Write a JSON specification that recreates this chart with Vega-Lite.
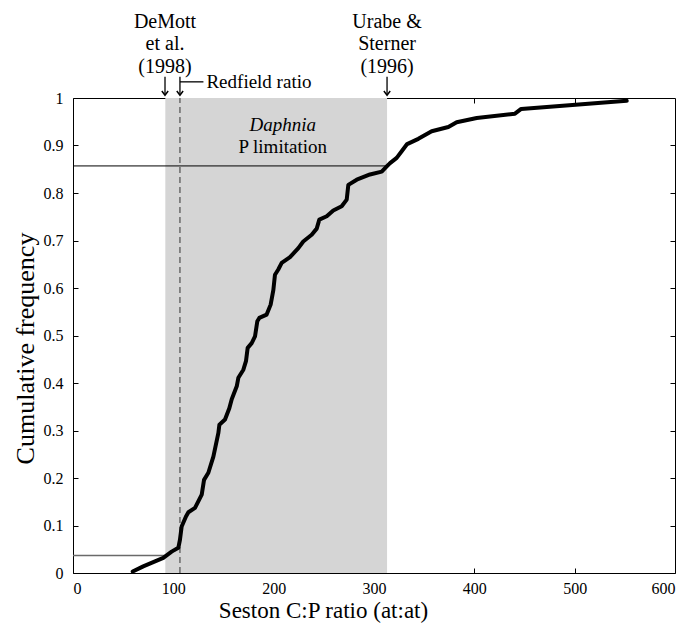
{
  "$schema": "https://vega.github.io/schema/vega-lite/v6.json",
  "width": 602,
  "height": 475,
  "autosize": {"type": "none"},
  "padding": {"left": 73, "top": 98, "right": 13, "bottom": 50},
  "background": "white",
  "config": {
    "view": {"stroke": null},
    "font": "Liberation Serif",
    "style": {
      "guide-label": {"font": "Liberation Serif", "fontSize": 16, "fill": "black"},
      "guide-title": {"font": "Liberation Serif", "fontWeight": "normal", "fill": "black"}
    },
    "axis": {
      "domainColor": "black", "domainWidth": 1, "tickColor": "black", "tickSize": -5,
      "labelFont": "Liberation Serif", "labelFontSize": 16, "labelColor": "black",
      "titleFont": "Liberation Serif", "titleFontWeight": "normal", "titleColor": "black",
      "grid": false
    }
  },
  "datasets": {
    "curve": [
      {"cp": 59.5, "f": 0.003}, {"cp": 70, "f": 0.014}, {"cp": 90, "f": 0.032}, {"cp": 98.3, "f": 0.045},
      {"cp": 105, "f": 0.053}, {"cp": 106.6, "f": 0.07}, {"cp": 108.3, "f": 0.098}, {"cp": 112.6, "f": 0.119},
      {"cp": 115, "f": 0.128}, {"cp": 121.6, "f": 0.137}, {"cp": 128.3, "f": 0.165}, {"cp": 130.6, "f": 0.196},
      {"cp": 134.9, "f": 0.211}, {"cp": 139.9, "f": 0.245}, {"cp": 144.9, "f": 0.295}, {"cp": 145.9, "f": 0.312},
      {"cp": 151.5, "f": 0.323}, {"cp": 155.8, "f": 0.347}, {"cp": 158.2, "f": 0.366}, {"cp": 163.2, "f": 0.393},
      {"cp": 164.8, "f": 0.411}, {"cp": 169.8, "f": 0.428}, {"cp": 172.4, "f": 0.446}, {"cp": 174.1, "f": 0.474},
      {"cp": 178.1, "f": 0.484}, {"cp": 181.4, "f": 0.498}, {"cp": 183.7, "f": 0.53}, {"cp": 185.7, "f": 0.537},
      {"cp": 193, "f": 0.544}, {"cp": 197, "f": 0.565}, {"cp": 199.7, "f": 0.596}, {"cp": 201.3, "f": 0.628},
      {"cp": 204.6, "f": 0.639}, {"cp": 208, "f": 0.653}, {"cp": 216.3, "f": 0.665}, {"cp": 224.6, "f": 0.684},
      {"cp": 229.5, "f": 0.698}, {"cp": 237.9, "f": 0.712}, {"cp": 242.9, "f": 0.725}, {"cp": 245.5, "f": 0.744},
      {"cp": 252.9, "f": 0.751}, {"cp": 259.4, "f": 0.763}, {"cp": 267.8, "f": 0.772}, {"cp": 272.8, "f": 0.786},
      {"cp": 274.4, "f": 0.817}, {"cp": 282.8, "f": 0.828}, {"cp": 296, "f": 0.839}, {"cp": 307.7, "f": 0.845},
      {"cp": 312.7, "f": 0.856}, {"cp": 316, "f": 0.863}, {"cp": 322.6, "f": 0.874}, {"cp": 327.6, "f": 0.888},
      {"cp": 333, "f": 0.903}, {"cp": 344.2, "f": 0.914}, {"cp": 357.5, "f": 0.93}, {"cp": 374.1, "f": 0.939},
      {"cp": 382.4, "f": 0.949}, {"cp": 402.4, "f": 0.958}, {"cp": 440.5, "f": 0.967}, {"cp": 446.7, "f": 0.977},
      {"cp": 551.9, "f": 0.994}
    ],
    "refs": [
      {"name": "DeMott", "cp": 91.7, "label": "DeMott\net al.\n(1998)"},
      {"name": "Redfield", "cp": 106.6, "label": ""},
      {"name": "Urabe", "cp": 313, "label": "Urabe &\nSterner\n(1996)"}
    ]
  },
  "resolve": {"axis": {"x": "independent", "y": "independent"}},
  "layer": [
    {
      "data": {"values": [{"lo": 92, "hi": 313}]},
      "mark": {"type": "rect", "color": "#d5d5d5"},
      "encoding": {
        "x": {"field": "lo", "type": "quantitative", "scale": {"domain": [0, 600], "nice": false},
              "axis": {"orient": "bottom", "values": [0, 100, 200, 300, 400, 500, 600], "title": "Seston C:P ratio (at:at)",
                       "labelFont": "Liberation Serif", "labelFontSize": 16, "titleFontSize": 23,
                       "labelPadding": 12, "titleX": 250, "titleY": 37, "titleBaseline": "middle", "titleAnchor": null}},
        "x2": {"field": "hi"},
        "y": {"datum": 0, "type": "quantitative", "scale": {"domain": [0, 1], "nice": false},
              "axis": {"orient": "left", "values": [0, 0.1, 0.2, 0.3, 0.4, 0.5, 0.6, 0.7, 0.8, 0.9, 1], "format": "~g",
                       "labelFont": "Liberation Serif", "labelFontSize": 16, "titleFontSize": 26,
                       "title": "Cumulative frequency", "labelPadding": 15, "titleX": -48, "titleY": 250, "titleBaseline": "middle", "titleAnchor": null}},
        "y2": {"datum": 1}
      }
    },
    {
      "data": {"values": [{"lo": 0, "hi": 600}]},
      "mark": {"type": "rule", "opacity": 0},
      "encoding": {
        "x": {"field": "lo", "type": "quantitative", "scale": {"domain": [0, 600], "nice": false},
              "axis": {"orient": "top", "values": [100, 200, 300, 400, 500], "labels": false, "title": null}},
        "x2": {"field": "hi"},
        "y": {"datum": 0.5, "type": "quantitative", "scale": {"domain": [0, 1], "nice": false},
              "axis": {"orient": "right", "values": [0.1, 0.2, 0.3, 0.4, 0.5, 0.6, 0.7, 0.8, 0.9], "labels": false, "title": null}}
      }
    },
    {
      "data": {"values": [{"lo": 0, "hi": 313, "f": 0.857}]},
      "mark": {"type": "rule", "color": "black", "strokeWidth": 1},
      "encoding": {
        "x": {"field": "lo", "type": "quantitative", "axis": null},
        "x2": {"field": "hi"},
        "y": {"field": "f", "type": "quantitative", "axis": null}
      }
    },
    {
      "data": {"values": [{"lo": 0, "hi": 92, "f": 0.037}]},
      "mark": {"type": "rule", "color": "#6a6a6a", "strokeWidth": 1.5},
      "encoding": {
        "x": {"field": "lo", "type": "quantitative", "axis": null},
        "x2": {"field": "hi"},
        "y": {"field": "f", "type": "quantitative", "axis": null}
      }
    },
    {
      "data": {"values": [{"cp": 106.6}]},
      "mark": {"type": "rule", "color": "#333333", "strokeWidth": 1, "strokeDash": [6, 4]},
      "encoding": {
        "x": {"field": "cp", "type": "quantitative", "axis": null},
        "y": {"datum": 0, "type": "quantitative", "axis": null},
        "y2": {"datum": 1}
      }
    },
    {
      "data": {"name": "curve"},
      "mark": {"type": "line", "color": "black", "strokeWidth": 4, "strokeJoin": "round", "strokeCap": "round"},
      "encoding": {
        "x": {"field": "cp", "type": "quantitative", "axis": null},
        "y": {"field": "f", "type": "quantitative", "axis": null}
      }
    },
    {
      "data": {"name": "refs"},
      "mark": {"type": "rule", "color": "black", "strokeWidth": 1.3},
      "encoding": {
        "x": {"field": "cp", "type": "quantitative", "axis": null},
        "y": {"datum": 1.045, "type": "quantitative", "axis": null},
        "y2": {"datum": 1.008}
      }
    },
    {
      "data": {"name": "refs"},
      "mark": {"type": "point", "shape": "M -1 -1.3 L 0 0 L 1 -1.3", "filled": false, "stroke": "black", "strokeWidth": 1.5, "size": 40, "opacity": 1},
      "encoding": {
        "x": {"field": "cp", "type": "quantitative", "axis": null},
        "y": {"datum": 1.006, "type": "quantitative", "axis": null}
      }
    },
    {
      "data": {"values": [{"lo": 106.6, "hi": 130, "f": 1.034}]},
      "mark": {"type": "rule", "color": "black", "strokeWidth": 1.3},
      "encoding": {
        "x": {"field": "lo", "type": "quantitative", "axis": null},
        "x2": {"field": "hi"},
        "y": {"field": "f", "type": "quantitative", "axis": null}
      }
    },
    {
      "data": {"name": "refs"},
      "mark": {"type": "text", "font": "Liberation Serif", "fontSize": 20, "color": "black", "lineBreak": "\n", "lineHeight": 22.5, "baseline": "middle", "align": "center"},
      "encoding": {
        "x": {"field": "cp", "type": "quantitative", "axis": null},
        "y": {"datum": 1.161, "type": "quantitative", "axis": null},
        "text": {"field": "label"}
      }
    },
    {
      "data": {"values": [{"cp": 133, "f": 1.034, "label": "Redfield ratio"}]},
      "mark": {"type": "text", "font": "Liberation Serif", "fontSize": 19, "color": "black", "baseline": "middle", "align": "left"},
      "encoding": {
        "x": {"field": "cp", "type": "quantitative", "axis": null},
        "y": {"field": "f", "type": "quantitative", "axis": null},
        "text": {"field": "label"}
      }
    },
    {
      "data": {"values": [{"cp": 209, "f": 0.944, "label": "Daphnia"}]},
      "mark": {"type": "text", "font": "Liberation Serif", "fontSize": 19, "fontStyle": "italic", "color": "black", "baseline": "middle", "align": "center"},
      "encoding": {
        "x": {"field": "cp", "type": "quantitative", "axis": null},
        "y": {"field": "f", "type": "quantitative", "axis": null},
        "text": {"field": "label"}
      }
    },
    {
      "data": {"values": [{"cp": 209, "f": 0.896, "label": "P limitation"}]},
      "mark": {"type": "text", "font": "Liberation Serif", "fontSize": 19, "color": "black", "baseline": "middle", "align": "center"},
      "encoding": {
        "x": {"field": "cp", "type": "quantitative", "axis": null},
        "y": {"field": "f", "type": "quantitative", "axis": null},
        "text": {"field": "label"}
      }
    }
  ]
}
